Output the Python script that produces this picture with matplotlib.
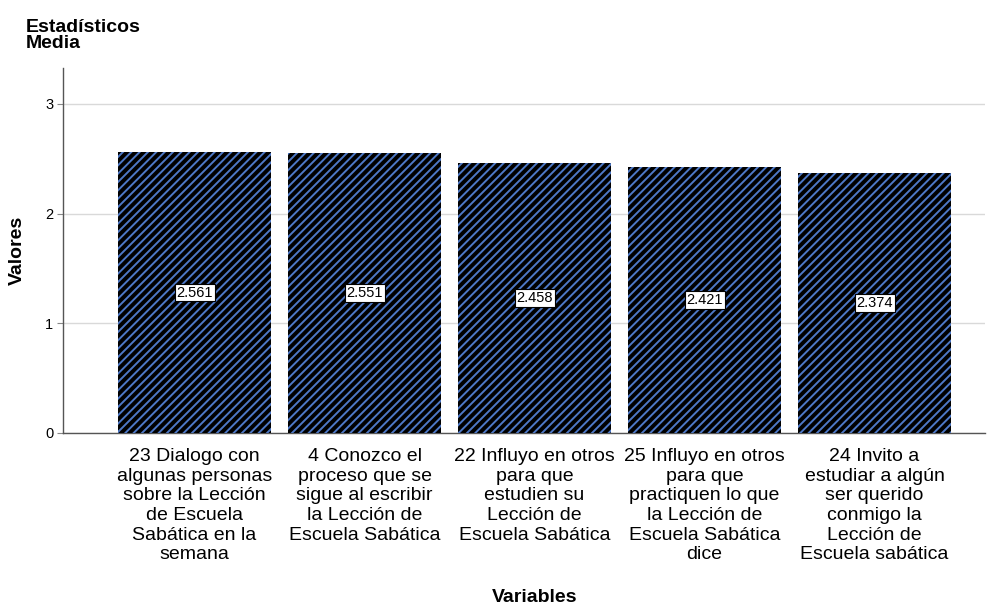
import matplotlib
matplotlib.use("Agg")
import matplotlib.pyplot as plt

plt.rcParams['font.family'] = ['Liberation Sans', 'DejaVu Sans']
plt.rcParams['hatch.linewidth'] = 1.4

categories = [
    "23 Dialogo con\nalgunas personas\nsobre la Lección\nde Escuela\nSabática en la\nsemana",
    "4 Conozco el\nproceso que se\nsigue al escribir\nla Lección de\nEscuela Sabática",
    "22 Influyo en otros\npara que\nestudien su\nLección de\nEscuela Sabática",
    "25 Influyo en otros\npara que\npractiquen lo que\nla Lección de\nEscuela Sabática\ndice",
    "24 Invito a\nestudiar a algún\nser querido\nconmigo la\nLección de\nEscuela sabática",
]
values = [2.561, 2.551, 2.458, 2.421, 2.374]
yticks = [0, 1, 2, 3]

fig = plt.figure(figsize=(9.92, 6.05), dpi=100)
ax = fig.add_axes([63/992, 172/605, (985-63)/992, (433-68)/605])

x = list(range(len(values)))
bars = ax.bar(x, values, width=0.9, color='black', edgecolor='#4d78c6',
              linewidth=0, hatch='////', zorder=3)

for xi, v in zip(x, values):
    ax.text(xi, v/2, f"{v:.3f}", ha='center', va='center', fontsize=10.5,
            zorder=5,
            bbox=dict(boxstyle='square,pad=0.12', facecolor='white',
                      edgecolor='black', linewidth=0.8))

ax.set_xlim(-0.774, 4.65)
ax.set_ylim(0, 3.327)
ax.set_yticks(yticks)
ax.set_yticklabels([str(t) for t in yticks], fontsize=10.5)
ax.yaxis.grid(True, color='#d9d9d9', linewidth=1, zorder=0)
ax.set_axisbelow(True)
ax.set_xticks(x)
ax.set_xticklabels(categories, fontsize=14, linespacing=1.2, va='top')
ax.tick_params(axis='x', length=0, pad=11)
ax.tick_params(axis='y', length=4, color='#888888', pad=3)
for s in ['top', 'right']:
    ax.spines[s].set_visible(False)
for s in ['left', 'bottom']:
    ax.spines[s].set_color('#555555')
    ax.spines[s].set_linewidth(1)

ax.set_ylabel("Valores", fontsize=14, fontweight='bold')
ax.yaxis.set_label_coords(-37/922, 0.5)
fig.text(535/992, 1 - 597/605, "Variables", fontsize=14, fontweight='bold',
         ha='center', va='center')
fig.text(26/992, 1 - 19/605, "Estadísticos\nMedia", fontsize=14,
         fontweight='bold', ha='left', va='top', linespacing=0.95)

fig.savefig("out.png", dpi=100)
